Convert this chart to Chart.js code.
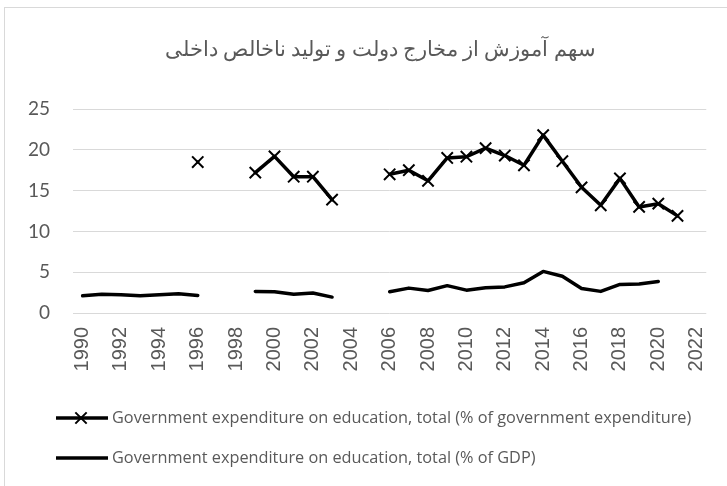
<!DOCTYPE html>
<html>
<head>
<meta charset="utf-8">
<script src="https://cdn.jsdelivr.net/npm/chart.js@4/dist/chart.umd.min.js"></script>
<style>
  html, body { margin: 0; padding: 0; background: #ffffff; overflow: hidden; }
  #wrap { position: relative; width: 727px; height: 486px; }
  #frame { position: absolute; left: 4px; top: 7px; width: 900px; height: 700px; border: 1px solid #d9d9d9; box-sizing: border-box; pointer-events: none; }
  canvas { position: absolute; left: 0; top: 0; }
</style>
</head>
<body>
<div id="wrap">
  <div id="frame"></div>
  <canvas id="c" width="727" height="486"></canvas>
</div>
<script>
const chartTitle = "سهم آموزش از مخارج دولت و تولید ناخالص داخلی";
const years = [1990,1991,1992,1993,1994,1995,1996,1997,1998,1999,2000,2001,2002,2003,2004,2005,2006,2007,2008,2009,2010,2011,2012,2013,2014,2015,2016,2017,2018,2019,2020,2021,2022];
const seriesNames = [
  "Government expenditure on education, total (% of government expenditure)",
  "Government expenditure on education, total (% of GDP)"
];
const pctGovExpenditure = [null,null,null,null,null,null,18.5,null,null,17.2,19.2,16.7,16.7,13.9,null,null,17.0,17.5,16.2,19.0,19.15,20.2,19.3,18.1,21.8,18.6,15.4,13.2,16.5,13.0,13.4,11.9,null];
const pctGDP = [2.1,2.3,2.25,2.1,2.25,2.35,2.15,null,null,2.65,2.6,2.3,2.45,1.95,null,null,2.6,3.05,2.75,3.35,2.8,3.1,3.2,3.7,5.1,4.5,3.0,2.65,3.5,3.55,3.85,null,null];
const yTicks = [0,5,10,15,20,25];

const textGray = '#595959';

const overlayPlugin = {
  id: 'overlay',
  afterDraw(chart) {
    const ctx = chart.ctx;
    ctx.save();
    // title
    ctx.fillStyle = textGray;
    ctx.font = '21px "Liberation Serif", "DejaVu Serif", serif';
    ctx.textAlign = 'center';
    ctx.textBaseline = 'middle';
    ctx.direction = 'rtl';
    ctx.fillText(chartTitle, 380, 50);
    ctx.direction = 'ltr';
    // legend
    const rows = [418, 458];
    chart.data.datasets.forEach((ds, i) => {
      const y = rows[i];
      ctx.strokeStyle = ds.borderColor;
      ctx.lineWidth = ds.borderWidth;
      ctx.lineCap = 'butt';
      ctx.beginPath();
      ctx.moveTo(56, y);
      ctx.lineTo(108, y);
      ctx.stroke();
      if (ds.pointRadius > 0) {
        const r = ds.pointRadius;
        const d = r * Math.SQRT1_2;
        ctx.lineWidth = ds.pointBorderWidth;
        ctx.beginPath();
        ctx.moveTo(81 - d, y - d); ctx.lineTo(81 + d, y + d);
        ctx.moveTo(81 - d, y + d); ctx.lineTo(81 + d, y - d);
        ctx.stroke();
      }
      ctx.fillStyle = textGray;
      ctx.font = '16.3px "Open Sans", Lato, sans-serif';
      ctx.textAlign = 'left';
      ctx.textBaseline = 'middle';
      ctx.fillText(ds.label, 112, y);
    });
    ctx.restore();
  }
};

new Chart(document.getElementById('c'), {
  type: 'line',
  data: {
    labels: years,
    datasets: [
      {
        label: seriesNames[0],
        data: pctGovExpenditure,
        borderColor: '#000000',
        backgroundColor: '#000000',
        borderWidth: 3.5,
        pointStyle: 'crossRot',
        pointRadius: 8,
        pointBorderWidth: 2,
        pointBorderColor: '#000000',
        pointHoverRadius: 8,
        tension: 0,
        spanGaps: false,
        borderJoinStyle: 'round',
        borderCapStyle: 'round'
      },
      {
        label: seriesNames[1],
        data: pctGDP,
        borderColor: '#000000',
        backgroundColor: '#000000',
        borderWidth: 3.5,
        pointRadius: 0,
        pointBorderWidth: 0,
        pointHoverRadius: 0,
        tension: 0,
        spanGaps: false,
        borderJoinStyle: 'round',
        borderCapStyle: 'round'
      }
    ]
  },
  options: {
    responsive: false,
    animation: false,
    layout: { padding: { top: 109, left: 0, right: 20, bottom: 103 } },
    plugins: {
      legend: { display: false },
      title: { display: false },
      tooltip: { enabled: false }
    },
    scales: {
      x: {
        type: 'category',
        offset: true,
        grid: { display: false },
        border: { display: false },
        afterFit(scale) { scale.height = 70; },
        ticks: {
          autoSkip: false,
          minRotation: 90,
          maxRotation: 90,
          padding: 6,
          color: textGray,
          font: { family: '"Liberation Sans", Arial, sans-serif', size: 20 },
          callback(value, index) {
            const y = years[index];
            return y % 2 === 0 ? String(y) : '';
          }
        }
      },
      y: {
        min: 0,
        max: 25,
        afterFit(scale) { scale.width = 73; },
        afterBuildTicks(scale) { scale.ticks = yTicks.map(v => ({ value: v })); },
        grid: { color: '#d9d9d9', lineWidth: 1, drawTicks: false },
        border: { display: false },
        ticks: {
          padding: 23,
          color: textGray,
          font: { family: 'Lato, "Open Sans", sans-serif', size: 19 }
        }
      }
    }
  },
  plugins: [overlayPlugin]
});
</script>
</body>
</html>
